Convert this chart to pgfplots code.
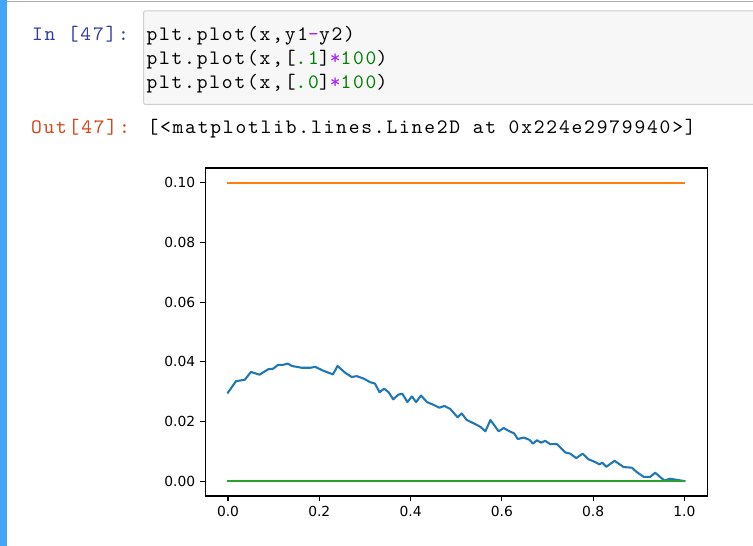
\documentclass[border=0pt]{standalone}
\usepackage{fontspec}
\setmainfont{DejaVu Sans}
\newfontfamily\codefont{lmmono10-regular.otf}[LetterSpace=8.8]
\usepackage{pgfplots}
\pgfplotsset{compat=1.18}
\definecolor{mplblue}{HTML}{1F77B4}
\definecolor{mplorange}{HTML}{FF7F0E}
\definecolor{mplgreen}{HTML}{2CA02C}
\definecolor{inprompt}{HTML}{303F9F}
\definecolor{outprompt}{HTML}{D84315}
\definecolor{cmop}{HTML}{AA22FF}
\definecolor{cnum}{HTML}{008000}
\definecolor{cellbg}{HTML}{F7F7F7}
\definecolor{cellborder}{HTML}{CFCFCF}
\definecolor{selbar}{HTML}{42A5F5}
\definecolor{topline}{HTML}{ABABAB}
\newcommand\code{\codefont\fontsize{20.6}{24}\selectfont}
\begin{document}
\begin{tikzpicture}
\useasboundingbox (0bp,0bp) rectangle (753bp,-546bp);
\fill[white] (0bp,0bp) rectangle (753bp,-546bp);
\fill[selbar] (0bp,0bp) rectangle (6.7bp,-546bp);
\draw[topline, line width=1.2bp] (6.7bp,-1.2bp) -- (753bp,-1.2bp);
\draw[cellborder, fill=cellbg, line width=1bp, rounded corners=2bp] (143.5bp,-10.8bp) rectangle (775bp,-104.3bp);
\begin{scope}[every node/.style={inner sep=0pt, outer sep=0pt, anchor=base west, font=\code}]
\node[text=inprompt] at (32bp,-40bp) {In [47]:};
\node at (146.5bp,-40bp) {plt.plot(x,y1\textcolor{cmop}{-}y2)};
\node at (146.5bp,-64bp) {plt.plot(x,[\textcolor{cnum}{.1}]\textcolor{cmop}{*}\textcolor{cnum}{100})};
\node at (146.5bp,-88bp) {plt.plot(x,[\textcolor{cnum}{.0}]\textcolor{cmop}{*}\textcolor{cnum}{100})};
\node[text=outprompt] at (31bp,-133.5bp) {Out[47]:};
\node at (147.5bp,-133.5bp) {[<matplotlib.lines.Line2D at 0x224e2979940>]};
\end{scope}
\begin{axis}[
  at={(205.2bp,-496bp)}, anchor=south west,
  scale only axis, width=502bp, height=328bp,
  xmin=-0.05, xmax=1.05, ymin=-0.005, ymax=0.105,
  xtick={0,0.2,0.4,0.6,0.8,1.0},
  ytick={0,0.02,0.04,0.06,0.08,0.1},
  scaled ticks=false,
  tick pos=left, tick align=outside,
  major tick length=4.9bp,
  every tick/.style={black, line width=1.1bp},
  axis line style={black, line width=1.1bp},
  tick label style={font=\fontsize{13.9}{15}\selectfont, inner sep=0pt},
  xticklabel style={/pgf/number format/.cd, fixed, fixed zerofill, precision=1, assume math mode=true},
  yticklabel style={/pgf/number format/.cd, fixed, fixed zerofill, precision=2, assume math mode=true},
  xticklabel shift=4.9bp, yticklabel shift=4.9bp,
  every axis plot/.append style={line width=2.08bp, line cap=rect, line join=round, mark=none},
]
\addplot[mplblue] coordinates {
(0.000,0.0297)(0.0175,0.0335)(0.037,0.0340)(0.050,0.0366)(0.069,0.0357)
(0.088,0.0375)(0.099,0.0377)(0.110,0.0390)(0.121,0.0390)(0.131,0.0394)
(0.140,0.0386)(0.162,0.0380)(0.180,0.0380)(0.191,0.0383)(0.209,0.0370)
(0.230,0.0358)(0.240,0.0386)(0.257,0.0363)(0.271,0.0349)(0.282,0.0352)
(0.297,0.0344)(0.311,0.0332)(0.322,0.0327)(0.332,0.0298)(0.342,0.0310)
(0.352,0.0298)(0.362,0.0274)(0.373,0.0290)(0.382,0.0293)(0.393,0.0265)
(0.403,0.0284)(0.412,0.0265)(0.423,0.0287)(0.436,0.0265)(0.450,0.0256)
(0.463,0.0246)(0.474,0.0252)(0.487,0.0242)(0.503,0.0214)(0.512,0.0227)
(0.523,0.0205)(0.538,0.0194)(0.553,0.0182)(0.564,0.0167)(0.575,0.0205)
(0.593,0.0167)(0.604,0.0178)(0.618,0.0166)(0.627,0.0160)(0.635,0.0141)
(0.648,0.0146)(0.661,0.0138)(0.668,0.0126)(0.677,0.0137)(0.686,0.0129)
(0.695,0.0135)(0.706,0.0124)(0.721,0.0124)(0.739,0.0096)(0.750,0.0092)
(0.763,0.0077)(0.777,0.0092)(0.790,0.0073)(0.803,0.0065)(0.814,0.0056)
(0.820,0.0062)(0.829,0.0048)(0.847,0.0068)(0.867,0.0047)(0.885,0.0045)
(0.895,0.0031)(0.911,0.0014)(0.925,0.0014)(0.936,0.0028)(0.956,0.0002)
(0.969,0.0008)(0.984,0.0004)(1.000,0.0000)
};
\addplot[mplorange] coordinates {(0,0.1)(1,0.1)};
\addplot[mplgreen] coordinates {(0,0)(1,0)};
\end{axis}
\end{tikzpicture}
\end{document}
